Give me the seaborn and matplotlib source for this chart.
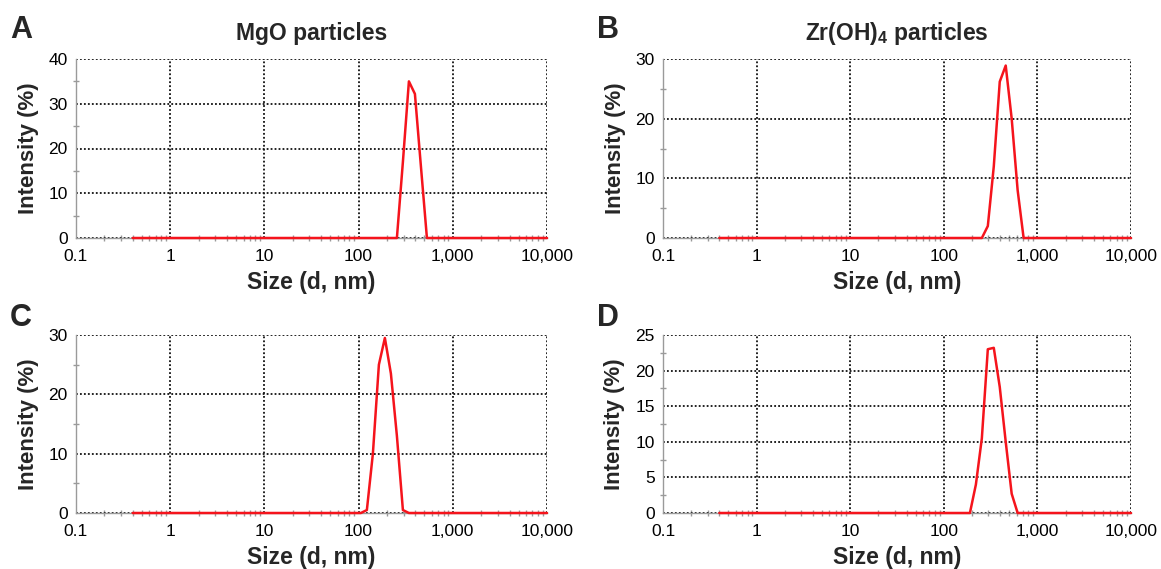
import matplotlib
matplotlib.use("Agg")
import matplotlib.pyplot as plt
import matplotlib.ticker as mticker
import seaborn as sns
import pandas as pd

# Size bins (d, nm)
size_nm = [0.4000, 0.4632, 0.5365, 0.6213, 0.7195, 0.8332, 0.9649, 1.117, 1.294, 1.499,
           1.736, 2.010, 2.328, 2.696, 3.122, 3.615, 4.187, 4.849, 5.615, 6.503,
           7.531, 8.721, 10.10, 11.70, 13.54, 15.69, 18.17, 21.04, 24.36, 28.21,
           32.67, 37.84, 43.82, 50.75, 58.77, 68.06, 78.82, 91.28, 105.7, 122.4,
           141.8, 164.2, 190.1, 220.2, 255.0, 295.3, 342.0, 396.1, 458.7, 531.2,
           615.1, 712.4, 825.0, 955.4, 1106, 1281, 1484, 1718, 1990, 2305,
           2669, 3091, 3580, 4145, 4801, 5560, 6439, 7456, 8635, 10000]

intensity_A = [0, 0, 0, 0, 0, 0, 0, 0, 0, 0,
               0, 0, 0, 0, 0, 0, 0, 0, 0, 0,
               0, 0, 0, 0, 0, 0, 0, 0, 0, 0,
               0, 0, 0, 0, 0, 0, 0, 0, 0, 0,
               0, 0, 0, 0, 0, 17, 35, 32.2, 16, 0,
               0, 0, 0, 0, 0, 0, 0, 0, 0, 0,
               0, 0, 0, 0, 0, 0, 0, 0, 0, 0]
intensity_B = [0, 0, 0, 0, 0, 0, 0, 0, 0, 0,
               0, 0, 0, 0, 0, 0, 0, 0, 0, 0,
               0, 0, 0, 0, 0, 0, 0, 0, 0, 0,
               0, 0, 0, 0, 0, 0, 0, 0, 0, 0,
               0, 0, 0, 0, 0, 2, 12, 26.2, 28.9, 20,
               8, 0, 0, 0, 0, 0, 0, 0, 0, 0,
               0, 0, 0, 0, 0, 0, 0, 0, 0, 0]
intensity_C = [0, 0, 0, 0, 0, 0, 0, 0, 0, 0,
               0, 0, 0, 0, 0, 0, 0, 0, 0, 0,
               0, 0, 0, 0, 0, 0, 0, 0, 0, 0,
               0, 0, 0, 0, 0, 0, 0, 0, 0, 0.5,
               10, 25, 29.5, 23.5, 13, 0.5, 0, 0, 0, 0,
               0, 0, 0, 0, 0, 0, 0, 0, 0, 0,
               0, 0, 0, 0, 0, 0, 0, 0, 0, 0]
intensity_D = [0, 0, 0, 0, 0, 0, 0, 0, 0, 0,
               0, 0, 0, 0, 0, 0, 0, 0, 0, 0,
               0, 0, 0, 0, 0, 0, 0, 0, 0, 0,
               0, 0, 0, 0, 0, 0, 0, 0, 0, 0,
               0, 0, 0, 4, 10.5, 23.0, 23.2, 17.7, 10, 2.7,
               0, 0, 0, 0, 0, 0, 0, 0, 0, 0,
               0, 0, 0, 0, 0, 0, 0, 0, 0, 0]

panel_letters = ["A", "B", "C", "D"]
panel_titles = ["MgO particles", r"Zr(OH)$_\mathbf{4}$ particles", "", ""]
y_max = [40, 30, 30, 25]
y_step = [10, 10, 10, 5]
x_ticks = [0.1, 1, 10, 100, 1000, 10000]
x_tick_labels = ["0.1", "1", "10", "100", "1,000", "10,000"]

sns.set_theme(style="white")
plt.rcParams["font.family"] = ["Liberation Sans", "DejaVu Sans"]
plt.rcParams["mathtext.fontset"] = "custom"
plt.rcParams["mathtext.rm"] = "Liberation Sans"
plt.rcParams["mathtext.bf"] = "Liberation Sans:bold"

fig = plt.figure(figsize=(11.61, 5.69), dpi=100)
W, H = 1161, 569
# axes boxes in pixels: left, top, right, bottom
boxes = [(76, 59, 547, 238), (663, 59, 1131, 238), (76, 335, 547, 513), (663, 335, 1131, 513)]
letter_pos = [(10, 30), (597, 30), (10, 318), (597, 318)]
series = [intensity_A, intensity_B, intensity_C, intensity_D]
gray = "#9a9a9a"

for i, (l, t, r, b) in enumerate(boxes):
    ax = fig.add_axes([l / W, 1 - b / H, (r - l) / W, (b - t) / H])
    df = pd.DataFrame({"size": size_nm, "intensity": series[i]})
    sns.lineplot(data=df, x="size", y="intensity", ax=ax, color="#f5141c",
                 linewidth=1.8, clip_on=False, zorder=5)
    ax.set_xscale("log")
    ax.set_xlim(0.1, 10000)
    ax.set_ylim(0, y_max[i])
    ax.xaxis.set_major_locator(mticker.FixedLocator(x_ticks))
    ax.xaxis.set_major_formatter(mticker.FixedFormatter(x_tick_labels))
    ax.xaxis.set_minor_locator(mticker.LogLocator(base=10, subs=range(2, 10), numticks=20))
    ax.xaxis.set_minor_formatter(mticker.NullFormatter())
    yt = list(range(0, y_max[i] + 1, y_step[i]))
    ax.yaxis.set_major_locator(mticker.FixedLocator(yt))
    ax.yaxis.set_minor_locator(mticker.MultipleLocator(y_step[i] / 2))
    ax.grid(True, which="major", color="#111111", linestyle=(0, (1, 1.2)), linewidth=1.3)
    for s in ["top", "right"]:
        ax.spines[s].set_visible(False)
    for s in ["left", "bottom"]:
        ax.spines[s].set_color(gray)
        ax.spines[s].set_linewidth(1.0)
    ax.tick_params(axis="y", which="major", direction="out", length=4, width=1,
                   color=gray, labelsize=12.5, labelcolor="black", pad=2)
    ax.tick_params(axis="y", which="minor", direction="inout", length=5, width=1,
                   color=gray, left=True)
    ax.tick_params(axis="x", which="major", direction="in", length=0,
                   labelsize=12.5, labelcolor="black", pad=8)
    ax.tick_params(axis="x", which="minor", direction="inout", length=4, width=1,
                   color=gray, bottom=True)
    ax.set_xlabel("Size (d, nm)", fontsize=16.5, fontweight="bold", labelpad=5)
    ax.set_ylabel("Intensity (%)", fontsize=16, fontweight="bold", labelpad=7)
    if panel_titles[i]:
        ax.set_title(panel_titles[i], fontsize=16.5, fontweight="bold", pad=14)
    lx, ly = letter_pos[i]
    fig.text(lx / W, 1 - ly / H, panel_letters[i], fontsize=22,
             fontweight="bold", ha="left", va="center")

fig.savefig("out.png", dpi=100)
